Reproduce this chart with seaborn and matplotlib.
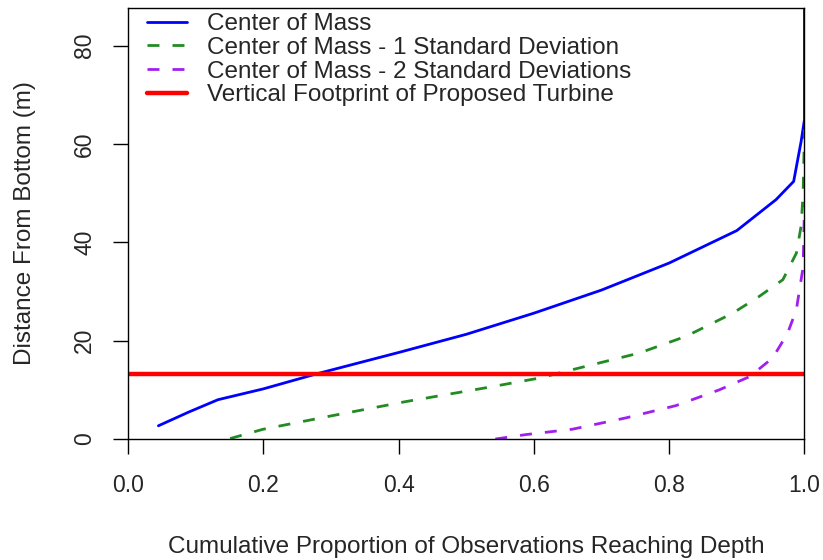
import numpy as np
import pandas as pd
import matplotlib
matplotlib.use("Agg")
import matplotlib.pyplot as plt
import seaborn as sns

# values
prop_com = [0.045, 0.09, 0.133, 0.2, 0.28, 0.4, 0.5, 0.6, 0.7, 0.8, 0.9, 0.958, 0.984, 0.995, 1.0, 1.0]
dist_com = [2.7, 5.5, 8.0, 10.2, 13.3, 17.6, 21.3, 25.6, 30.3, 35.8, 42.4, 48.7, 52.4, 60.5, 65.0, 95.0]

prop_sd1 = [0.151, 0.2, 0.3, 0.41, 0.528, 0.608, 0.677, 0.756, 0.825, 0.894, 0.933, 0.968, 0.988, 0.995, 0.998, 1.0]
dist_sd1 = [0.1, 2.0, 4.7, 7.6, 10.4, 12.4, 14.8, 17.5, 20.9, 25.6, 29.0, 32.4, 37.8, 43.3, 50.0, 63.0]

prop_sd2 = [0.543, 0.588, 0.657, 0.736, 0.81, 0.874, 0.919, 0.953, 0.975, 0.988, 0.998, 1.0]
dist_sd2 = [0.0, 0.9, 2.0, 4.3, 6.8, 10.0, 12.7, 16.5, 21.5, 26.3, 35.0, 47.5]

turbine_top = 13.2

labels = ["Center of Mass",
          "Center of Mass - 1 Standard Deviation",
          "Center of Mass - 2 Standard Deviations",
          "Vertical Footprint of Proposed Turbine"]

sns.set_style("white")
plt.rcParams["font.family"] = ["Liberation Sans", "DejaVu Sans"]

fig = plt.figure(figsize=(8.23, 5.6), dpi=100)
ax = fig.add_axes([0.1555, 0.216, 0.822, 0.770])

sns.lineplot(x=prop_com, y=dist_com, ax=ax, color="#0000FF", lw=2,
             sort=False, estimator=None, label=labels[0])
sns.lineplot(x=prop_sd1, y=dist_sd1, ax=ax, color="#228B22", lw=2,
             sort=False, estimator=None, label=labels[1], dashes=False)
sns.lineplot(x=prop_sd2, y=dist_sd2, ax=ax, color="#A020F0", lw=2,
             sort=False, estimator=None, label=labels[2], dashes=False)
ax.lines[1].set_dashes([4.3, 4.7])
ax.lines[2].set_dashes([4.3, 4.7])
ax.axhline(turbine_top, color="#FF0000", lw=3.2, label=labels[3])

ax.set_xlim(0, 1.0)
ax.set_ylim(0, 87.7)
ax.set_xticks([0, 0.2, 0.4, 0.6, 0.8, 1.0])
ax.set_xticklabels(["0.0", "0.2", "0.4", "0.6", "0.8", "1.0"])
ax.set_yticks([0, 20, 40, 60, 80])
ax.set_yticklabels(["0", "20", "40", "60", "80"], rotation=90, va="center")
ax.tick_params(axis="both", direction="out", length=11, width=1, labelsize=16.5,
               color="black", bottom=True, left=True)
ax.tick_params(axis="x", pad=14)
ax.tick_params(axis="y", pad=12)
for s in ax.spines.values():
    s.set_color("black")
    s.set_linewidth(1)

ax.set_xlabel("Cumulative Proportion of Observations Reaching Depth", fontsize=17.5, labelpad=28.5)
ax.set_ylabel("Distance From Bottom (m)", fontsize=17.5, labelpad=27)

leg = ax.legend(loc="upper left", frameon=False, fontsize=17.5, handlelength=1.65,
                handletextpad=0.8, labelspacing=0.07, borderaxespad=0, borderpad=0.4,
                bbox_to_anchor=(0.014, 1.01))

fig.savefig("out.png", dpi=100)
